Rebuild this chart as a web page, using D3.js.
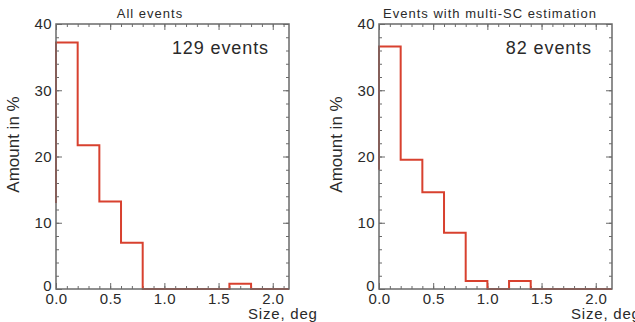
<!DOCTYPE html>
<html>
<head>
<meta charset="utf-8">
<script src="https://cdn.jsdelivr.net/npm/d3@7"></script>
<style>
  body { margin: 0; background: #fff; }
  svg { font-family: "Liberation Sans", Arial, Helvetica, sans-serif; }
</style>
</head>
<body>
<div id="viz"></div>
<script>
// histogram bins, 0.2 deg wide
const binStarts = [0.0, 0.2, 0.4, 0.6, 0.8, 1.0, 1.2, 1.4, 1.6, 1.8, 2.0];
const allValues = [37.2, 21.7, 13.2, 7.0, 0, 0, 0, 0, 0.8, 0, 0];
const multiValues = [36.6, 19.5, 14.6, 8.5, 1.2, 0, 1.2, 0, 0, 0, 0];
const allStart = 13;
const multiStart = 18;

const titles = ['All events', 'Events with multi-SC estimation'];
const counts = ['129 events', '82 events'];
const xTicks = [0, 0.5, 1.0, 1.5, 2.0];
const yTicks = [0, 10, 20, 30, 40];

const W = 635, H = 322;
const svg = d3.select('#viz').append('svg').attr('width', W).attr('height', H);

const axisCol = '#6a6a6a';
const textCol = '#2a2a2a';
const red = '#d8412f';

const drawPanel = (ox, title, count, values, startVal, titleX) => {
  const pw = 233, ph = 265, top = 24;
  const g = svg.append('g').attr('transform', `translate(${ox},${top})`);

  const x = d3.scaleLinear().domain([0, 2.15]).range([0, pw]);
  const y = d3.scaleLinear().domain([0, 40]).range([ph, 0]);

  // histogram outline
  const pts = [{ x: 0, y: startVal }];
  binStarts.forEach((b, i) => pts.push({ x: b, y: values[i] }));
  pts.push({ x: 2.15, y: values[values.length - 1] });

  g.append('clipPath').attr('id', 'clip' + ox)
    .append('rect').attr('x', -2).attr('y', -2).attr('width', pw + 2).attr('height', ph + 4);

  // minor ticks
  const minorX = d3.range(0, 2.15, 0.1);
  const minorY = d3.range(0, 41, 2);
  const mk = (axis, tr, vals, size) => {
    const a = g.append('g').attr('transform', tr)
      .call(axis.tickValues(vals).tickSize(size).tickFormat(''));
    a.select('.domain').remove();
    a.selectAll('line').attr('stroke', axisCol).attr('stroke-width', 1);
  };
  mk(d3.axisBottom(x), `translate(0,${ph})`, minorX, -3);
  mk(d3.axisTop(x), 'translate(0,0)', minorX, -3);
  mk(d3.axisLeft(y), 'translate(0,0)', minorY, -3);
  mk(d3.axisRight(y), `translate(${pw},0)`, minorY, -3);
  mk(d3.axisTop(x), 'translate(0,0)', xTicks, -6);
  mk(d3.axisRight(y), `translate(${pw},0)`, yTicks, -6);

  // labelled axes
  const xa = g.append('g').attr('transform', `translate(0,${ph})`)
    .call(d3.axisBottom(x).tickValues(xTicks).tickSize(-6).tickPadding(4).tickFormat(d3.format('.1f')));
  const ya = g.append('g')
    .call(d3.axisLeft(y).tickValues(yTicks).tickSize(-6).tickPadding(4).tickFormat(d3.format('d')));
  [xa, ya].forEach(a => {
    a.select('.domain').remove();
    a.selectAll('line').attr('stroke', axisCol).attr('stroke-width', 1);
    a.selectAll('text').attr('fill', textCol).attr('font-size', 15)
      .attr('letter-spacing', 0.4)
      .attr('font-family', '"Liberation Sans", Arial, sans-serif');
  });
  // the "0" on y sits a little above the corner
  ya.selectAll('text').filter(d => d === 0).attr('dy', '0.1em');

  g.append('path')
    .datum(pts)
    .attr('clip-path', `url(#clip${ox})`)
    .attr('fill', 'none')
    .attr('stroke', red)
    .attr('stroke-width', 2)
    .attr('d', d3.line().x(d => x(d.x)).y(d => y(d.y)).curve(d3.curveStepAfter));

  // frame
  g.append('rect')
    .attr('width', pw).attr('height', ph)
    .attr('fill', 'none').attr('stroke', axisCol).attr('stroke-width', 1.5);

  g.append('text')
    .attr('x', titleX - ox).attr('y', -6)
    .attr('text-anchor', 'middle').attr('font-size', 13).attr('fill', textCol)
    .attr('letter-spacing', 1)
    .text(title);

  g.append('text')
    .attr('x', pw - 20).attr('y', 30)
    .attr('text-anchor', 'end').attr('font-size', 18).attr('fill', textCol)
    .attr('letter-spacing', 0.9)
    .text(count);

  g.append('text')
    .attr('transform', `translate(${-37},${ph / 2 - 12}) rotate(-90)`)
    .attr('text-anchor', 'middle').attr('font-size', 17).attr('fill', textCol)
    .text('Amount in %');

  g.append('text')
    .attr('x', pw - 41).attr('y', ph + 30)
    .attr('font-size', 15).attr('fill', textCol)
    .attr('letter-spacing', 0.8)
    .text('Size, deg');
};

drawPanel(56, titles[0], counts[0], allValues, allStart, 150);
drawPanel(379, titles[1], counts[1], multiValues, multiStart, 490);
</script>
</body>
</html>
